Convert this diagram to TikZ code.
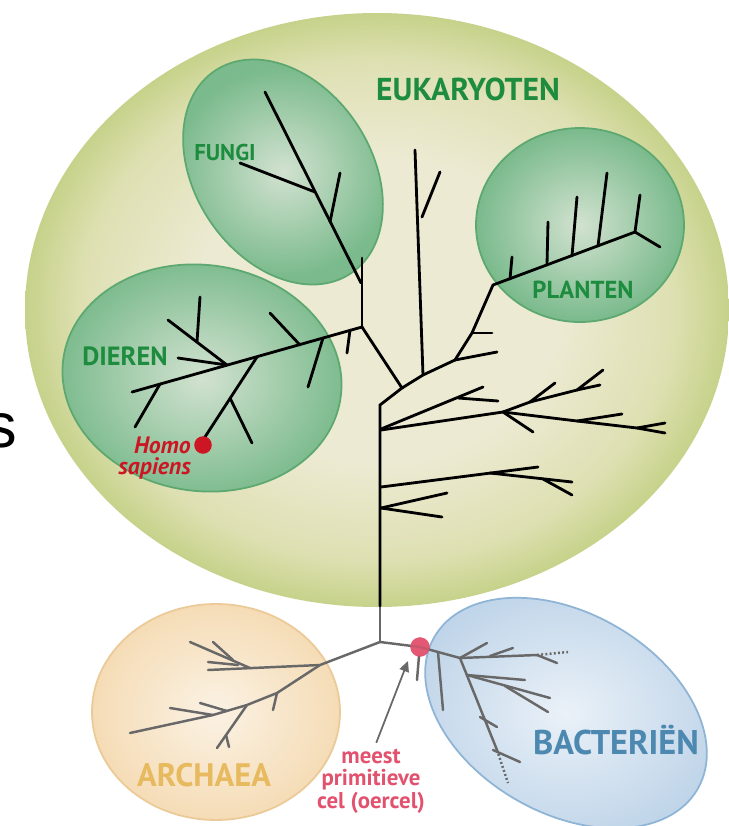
\documentclass[tikz,border=0pt]{standalone}
\usepackage{fontspec}
\setmainfont{PT Sans}
\newfontfamily\randfont{Liberation Sans}
\usetikzlibrary{arrows.meta}

\definecolor{eukin}{RGB}{236,234,210}
\definecolor{eukmid}{RGB}{222,224,178}
\definecolor{eukuit}{RGB}{198,210,138}
\definecolor{groenin}{RGB}{210,226,208}
\definecolor{groenuit}{RGB}{122,186,140}
\definecolor{groenrand}{RGB}{92,168,112}
\definecolor{groentekst}{RGB}{30,140,62}
\definecolor{archin}{RGB}{251,242,228}
\definecolor{archuit}{RGB}{245,220,182}
\definecolor{archrand}{RGB}{236,202,152}
\definecolor{archtekst}{RGB}{232,186,96}
\definecolor{bactin}{RGB}{234,241,248}
\definecolor{bactuit}{RGB}{192,213,233}
\definecolor{bactrand}{RGB}{142,180,214}
\definecolor{bacttekst}{RGB}{76,136,176}
\definecolor{roze}{RGB}{226,82,110}
\definecolor{rood}{RGB}{204,22,36}
\definecolor{grijs}{RGB}{104,104,104}

\pgfdeclareradialshading{eukvlak}{\pgfpoint{0bp}{0bp}}{%
  color(0bp)=(eukin); color(13bp)=(eukin); color(21bp)=(eukmid);
  color(25bp)=(eukuit); color(50bp)=(eukuit)}

\tikzset{
  groep/.style={text=groentekst},
  tak/.style={line width=1.6pt, line cap=round, draw=black},
  oudtak/.style={line width=1.4pt, line cap=round, draw=grijs},
  stip/.style={line width=1.4pt, draw=grijs, dash pattern=on 1.1pt off 1.3pt},
  bol/.style={circle, inner sep=0pt, draw=none},
}

\begin{document}
\begin{tikzpicture}[x=0.02cm,y=-0.02cm]
  \useasboundingbox[fill=white] (0,0) rectangle (729,826);

  % domeinen
  \shade[shading=eukvlak] (377,310) ellipse (352 and 297);
  \shade[inner color=archin, outer color=archuit, draw=archrand, line width=1pt] (216,712) ellipse (124 and 108);
  \shade[inner color=bactin, outer color=bactuit, draw=bactrand, line width=1pt, rotate around={-30:(566,713)}] (566,713) ellipse (152 and 100);

  % rijken binnen de eukaryoten
  \shade[inner color=groenin, outer color=groenuit, draw=groenrand, line width=1pt, rotate around={-56:(283,172)}] (283,172) ellipse (122 and 88);
  \shade[inner color=groenin, outer color=groenuit, draw=groenrand, line width=1pt, rotate around={-8:(202,378)}] (202,378) ellipse (140 and 113);
  \shade[inner color=groenin, outer color=groenuit, draw=groenrand, line width=1pt] (580,225) ellipse (104 and 97);

  \node[font=\randfont\fontsize{36}{40}\selectfont, inner sep=0pt, anchor=base] (rand) at (1,447) {s};

  % stam
  \coordinate (wortel) at (380,642);
  \draw[oudtak] (wortel) -- (380,606);
  \draw[tak] (380,606) -- (380,405) -- (402,388) -- (362,327);

  % planten en de rechter zijtakken
  \draw[tak] (402,388) -- (423,375) -- (455,360) -- (472,333) -- (493,285) -- (635,232) -- (660,247);
  \draw[tak] (635,232) -- (640,195);
  \draw[tak] (423,375) -- (415,150);
  \draw[tak] (422,217) -- (440,172);
  \draw[tak] (455,360) -- (497,352);
  \draw[tak] (472,333) -- (492,333);
  \draw[tak] (510,279) -- (512,257);
  \draw[tak] (547,265) -- (548,222);
  \draw[tak] (572,256) -- (577,197);
  \draw[tak] (598,246) -- (607,173);

  % fungi
  \draw[tak] (362,327) -- (362,258);
  \draw[tak] (361,283) -- (265,92);
  \draw[tak] (330,222) -- (340,173);
  \draw[tak] (315,192) -- (240,163);

  % dieren
  \draw[tak] (362,327) -- (132,392);
  \draw[tak] (350,330) -- (347,353);
  \draw[tak] (323,338) -- (308,387);
  \draw[tak] (300,345) -- (270,313);
  \draw[tak] (257,357) -- (203,440);
  \draw[tak] (230,398) -- (252,443);
  \draw[tak] (227,365) -- (168,320);
  \draw[tak] (197,342) -- (200,297);
  \draw[tak] (227,365) -- (178,358);
  \draw[tak] (160,384) -- (135,427);

  % takken uit de stam naar rechts
  \draw[tak] (381,429) -- (483,387);
  \draw[tak] (458,398) -- (498,401);
  \draw[tak] (381,430) -- (503,412) -- (577,421) -- (637,428) -- (665,433);
  \draw[tak] (577,421) -- (622,414);
  \draw[tak] (637,428) -- (665,423);
  \draw[tak] (503,412) -- (533,432);
  \draw[tak] (503,412) -- (530,402) -- (577,390) -- (603,370);
  \draw[tak] (530,402) -- (555,383);
  \draw[tak] (577,390) -- (600,385);
  \draw[tak] (381,487) -- (538,467);
  \draw[tak] (490,473) -- (572,482);
  \draw[tak] (543,479) -- (572,495);
  \draw[tak] (381,508) -- (447,493);
  \draw[tak] (381,508) -- (442,517);

  % archaea
  \draw[oudtak] (wortel) -- (320,665) -- (208,670);
  \draw[oudtak] (250,668) -- (190,642);
  \draw[oudtak] (233,660) -- (213,642);
  \draw[oudtak] (208,662) -- (238,665);
  \draw[oudtak] (320,665) -- (277,693) -- (247,705) -- (213,715) -- (130,733);
  \draw[oudtak] (277,693) -- (273,710);
  \draw[oudtak] (247,705) -- (217,748);
  \draw[oudtak] (226,735) -- (229,747);
  \draw[oudtak] (213,715) -- (170,708);
  \draw[oudtak] (227,711) -- (200,703);

  % bacterien
  \node[bol, fill=roze, fill opacity=0.8, minimum size=11pt] (oercel) at (420,647) {};
  \draw[oudtak] (wortel) -- (oercel.center) -- (438,652) -- (460,658) -- (537,655);
  \draw[stip] (537,655) -- (568,652);
  \draw[oudtak] (537,655) -- (557,663);
  \draw[oudtak] (438,652) -- (443,710);
  \draw[oudtak] (460,658) -- (487,643);
  \draw[oudtak] (490,656) -- (513,648);
  \draw[oudtak] (460,658) -- (497,750);
  \draw[stip] (497,750) -- (508,783);
  \draw[oudtak] (467,675) -- (550,698);
  \draw[oudtak] (467,675) -- (525,680);
  \draw[oudtak] (505,686) -- (548,712);
  \draw[oudtak] (480,717) -- (497,727);
  \draw[oudtak] (493,750) -- (520,762);
  \draw[oudtak] (419,656) -- (417,680);
  \node[bol, fill=roze, fill opacity=0.8, minimum size=11pt] at (oercel) {};

  \node[bol, fill=rood, minimum size=10pt] (mens) at (203,445) {};

  % namen
  \node[groep, font=\bfseries\fontsize{18}{20}\selectfont] (euk) at (468,89) {EUKARYOTEN};
  \node[groep, font=\bfseries\fontsize{13}{15}\selectfont] (fungi) at (225,152) {FUNGI};
  \node[groep, font=\bfseries\fontsize{14}{16}\selectfont] (planten) at (583,290) {PLANTEN};
  \node[groep, font=\bfseries\fontsize{15}{17}\selectfont] (dieren) at (125,356) {DIEREN};
  \node[text=rood, font=\bfseries\itshape\fontsize{13.5}{12}\selectfont, align=right, anchor=east, inner sep=0pt] (homo) at (191,458) {Homo\\sapiens};
  \node[text=archtekst, font=\bfseries\fontsize{18.5}{20}\selectfont] (archaea) at (204,775) {ARCHAEA};
  \node[text=bacttekst, font=\bfseries\fontsize{19.5}{21}\selectfont] (bact) at (616,740) {BACTERIËN};
  \node[text=roze, font=\bfseries\fontsize{13}{12.7}\selectfont, align=center] (uitleg) at (371,781) {meest\\primitieve\\cel (oercel)};

  \coordinate (pijlpunt) at (408,661);
  \draw[grijs, line width=1pt, -{Triangle[length=6pt,width=5.5pt]}] ([xshift=3pt]uitleg.north) -- (pijlpunt);
\end{tikzpicture}
\end{document}
